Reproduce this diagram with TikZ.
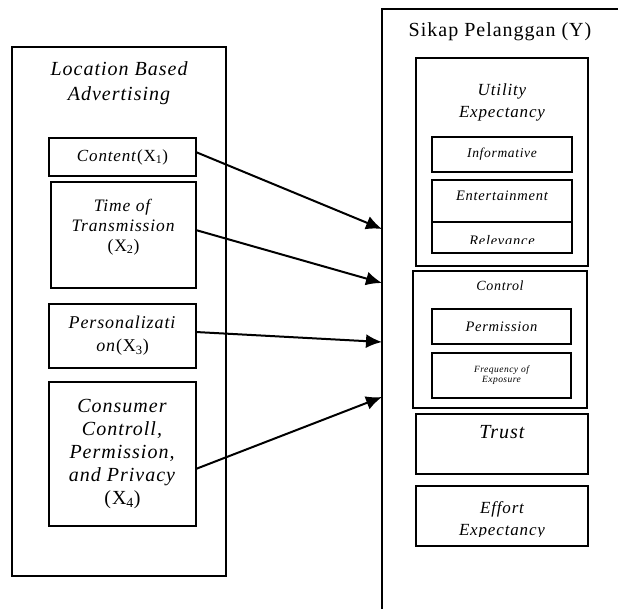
\documentclass[tikz,border=0pt]{standalone}
\usepackage{fontspec}
\setmainfont{Liberation Serif}[LetterSpace=5]
\usepackage{tikz}
\usetikzlibrary{arrows.meta,calc}
\tikzset{box/.style={draw,line width=1.5pt,inner sep=0pt,align=center},
  lbl/.style={inner sep=0pt,align=center},
  arr/.style={-{Latex[length=16pt,width=14pt]},line width=2pt}}
\newcommand{\fs}[2]{\fontsize{#1}{#2}\selectfont}

\begin{document}
\begin{tikzpicture}[x=1pt,y=-1pt]
\useasboundingbox (0,0) rectangle (618,608);
\clip (0,0) rectangle (618,608);
\node[box,minimum width=214pt,minimum height=529pt] (lba) at (119,311.5) {};
\node[lbl,font=\fs{20}{25}\itshape] (lbat) at (119,83) {Location Based\\Advertising};
\node[box,minimum width=147pt,minimum height=38pt,font=\fs{17}{20}] (x1) at (122.5,157)
  {\textit{Content}(X\textsubscript{1})};
\node[box,minimum width=145pt,minimum height=106pt] (x2) at (123.5,235) {};
\node[lbl,font=\fs{17.5}{20}] (x2t) at (123.5,227)
  {\textit{Time of}\\\textit{Transmission}\\(X\textsubscript{2})};
\node[box,minimum width=147pt,minimum height=64pt,font=\fs{18}{23}] (x3) at (122.5,336)
  {\textit{Personalizati}\\\textit{on}(X\textsubscript{3})};
\node[box,minimum width=147pt,minimum height=144pt,font=\fs{20}{23}] (x4) at (122.5,454)
  {\textit{Consumer}\\\textit{Controll,}\\\textit{Permission,}\\\textit{and Privacy}\\(X\textsubscript{4})};

\node[box,minimum width=258pt,minimum height=631pt] (y) at (511,324.5) {};
\node[lbl,font=\fs{20}{24}] (yt) at (500,32) {Sikap Pelanggan (Y)};
\node[box,minimum width=172pt,minimum height=208pt] (ue) at (502,162) {};
\node[lbl,font=\fs{17}{22}\itshape] (uet) at (502,102) {Utility\\Expectancy};
\node[box,minimum width=140pt,minimum height=35pt,font=\fs{13.5}{16}\itshape] (inf) at (502,154.5) {Informative};
\node[box,minimum width=140pt,minimum height=42pt] (ent) at (502,201) {};
\node[lbl,font=\fs{14.5}{17}\itshape] (entt) at (502,196) {Entertainment};
\node[box,minimum width=140pt,minimum height=31pt] (rel) at (502,237.5) {};
\begin{scope}
\clip (rel.north west) rectangle ($(rel.south east)+(0,-10)$);
\node[lbl,font=\fs{14.5}{17}\itshape,anchor=base] (relt) at (502,245) {Relevance};
\end{scope}
\node[box,minimum width=174pt,minimum height=137pt] (ctl) at (500,339.5) {};
\node[lbl,font=\fs{14}{17}\itshape] (ctlt) at (500,286) {Control};
\node[box,minimum width=139pt,minimum height=35pt,font=\fs{14.5}{17}\itshape] (perm) at (501.5,326.5) {Permission};
\node[box,minimum width=139pt,minimum height=45pt,font=\fs{9.5}{10}\itshape] (freq) at (501.5,375.5)
  {Frequency of\\Exposure};
\node[box,minimum width=172pt,minimum height=60pt] (tr) at (502,444) {};
\node[lbl,font=\fs{20}{24}\itshape] (trt) at (502,432) {Trust};
\node[box,minimum width=172pt,minimum height=60pt] (eff) at (502,516) {};
\begin{scope}
\clip (eff.north west) rectangle ($(eff.south east)+(0,-10)$);
\node[lbl,font=\fs{17}{22}\itshape] (efft) at (502,520) {Effort\\Expectancy};
\end{scope}

\coordinate (y1) at (382,229);
\coordinate (y2) at (382,283);
\coordinate (y3) at (382,342);
\coordinate (y4) at (382,397);
\draw[arr] ($(x1.east)+(-1,-5)$) -- (y1);
\draw[arr] ($(x2.east)+(-1,-5)$) -- (y2);
\draw[arr] ($(x3.east)+(-1,-4)$) -- (y3);
\draw[arr] ($(x4.east)+(-1,15)$) -- (y4);
\end{tikzpicture}
\end{document}
